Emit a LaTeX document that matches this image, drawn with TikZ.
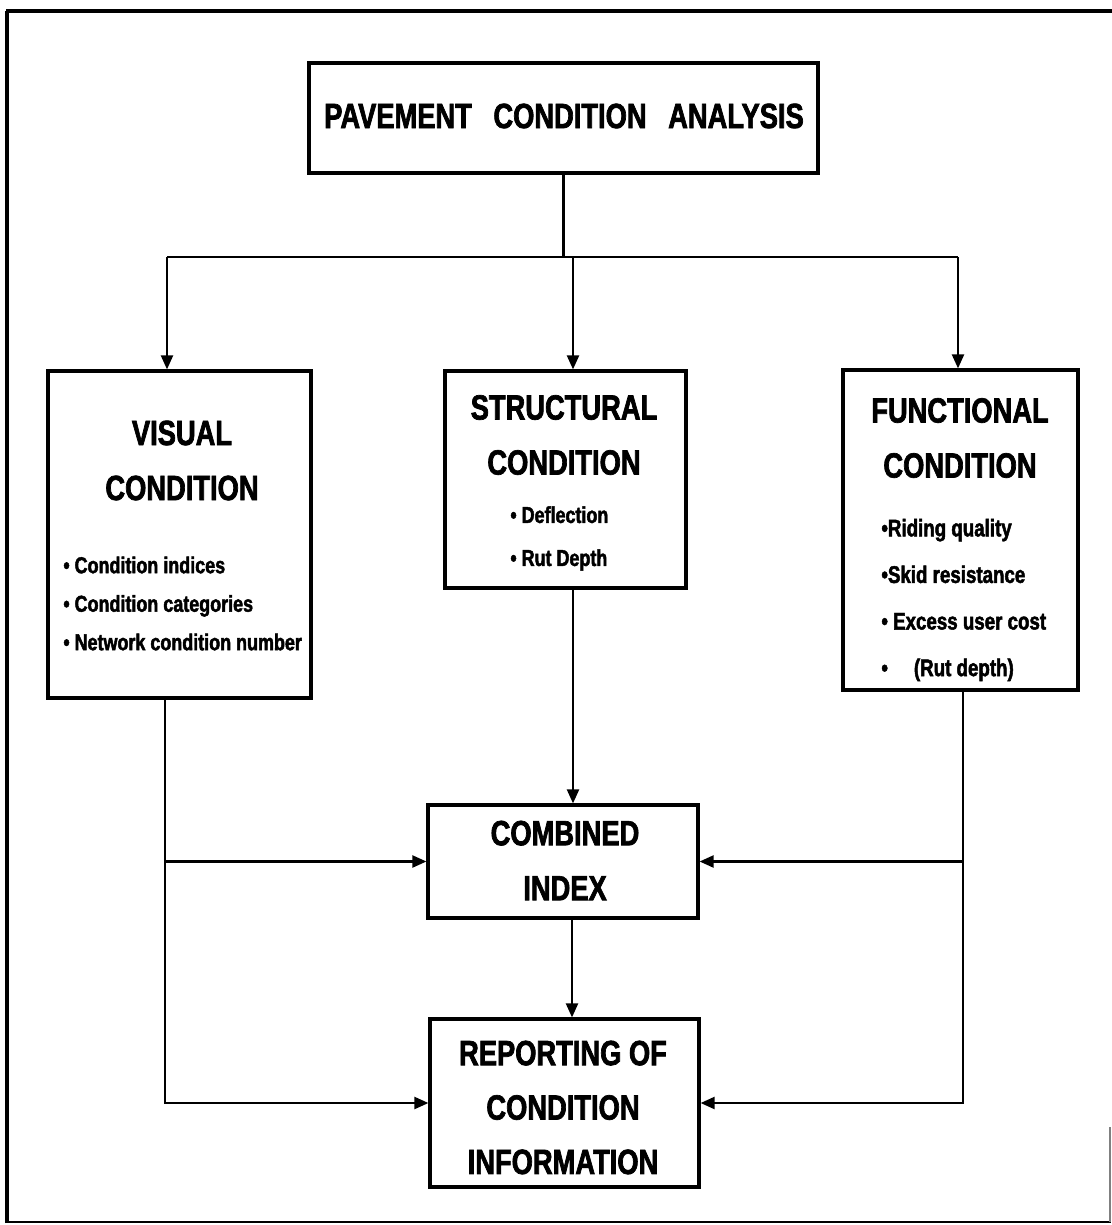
\documentclass[tikz,border=0pt]{standalone}
\usepackage{fontspec}
\setmainfont{Liberation Sans}[FakeStretch=0.78, BoldFeatures={FakeBold=2}]
\usetikzlibrary{arrows.meta}
\begin{document}
\begin{tikzpicture}[x=0.5pt,y=-0.5pt,
  box/.style={draw,line width=1.6pt,inner sep=0pt},
  head/.style={font=\bfseries\fontsize{17.5}{27.5}\selectfont,align=center,inner sep=0pt},
  bul/.style={font=\bfseries\fontsize{11.5}{19.25}\selectfont,align=left,anchor=west,inner sep=0pt},
  con/.style={line width=1.1pt},
  arr/.style={con,-{Triangle[length=7pt,width=6pt]}}]
\useasboundingbox (0,0) rectangle (1112,1225);
% outer frame
\draw[line width=2pt] (7,1223) -- (7,11);
\draw[line width=2pt] (6,11) -- (1112,11);
\draw[line width=1.4pt] (7,1222) -- (1111,1222);
\draw[line width=0.6pt,gray] (1110,1127) -- (1110,1222);
% boxes
\node[box,minimum width=254.5pt,minimum height=55pt] (title) at (563.5,118) {};
\node[box,minimum width=131.5pt,minimum height=163.5pt] (visual) at (179.5,534.5) {};
\node[box,minimum width=120.5pt,minimum height=108.5pt] (struct) at (565.5,479.5) {};
\node[box,minimum width=117.5pt,minimum height=160pt] (func) at (960.5,530) {};
\node[box,minimum width=135pt,minimum height=56.5pt] (comb) at (563,861.5) {};
\node[box,minimum width=134.5pt,minimum height=84pt] (report) at (564.5,1103) {};
% texts
\node[head] (titletext) at (564,116) {PAVEMENT\hspace{7pt} CONDITION\hspace{7pt} ANALYSIS};
\node[head] (visualhead) at (182,460.5) {VISUAL\\CONDITION};
\node[bul] (visuallist) at (63,603.5) {• Condition indices\\• Condition categories\\• Network condition number};
\node[head] (structhead) at (564,435) {STRUCTURAL\\CONDITION};
\node[bul,font=\bfseries\fontsize{11.5}{21.5}\selectfont] (structlist) at (510,538.5) {• Deflection\\• Rut Depth};
\node[head] (funchead) at (960,438) {FUNCTIONAL\\CONDITION};
\node[bul,font=\bfseries\fontsize{12}{23.3}\selectfont] (funclist) at (881,600) {•Riding quality\\•Skid resistance\\• Excess user cost\\•\hspace{13pt}(Rut depth)};
\node[head] (combhead) at (565,860.5) {COMBINED\\INDEX};
\node[head,font=\bfseries\fontsize{17.5}{27.2}\selectfont] (reporthead) at (563,1107.5) {REPORTING OF\\CONDITION\\INFORMATION};
% connector coordinates
\coordinate (jL) at (167,257);
\coordinate (jR) at (958,257);
\coordinate (jS) at (573,257);
\coordinate (cr) at (572,950);
\coordinate (lx) at (165,900);
\coordinate (rx) at (963,900);
% connectors
\draw[con] (title.south) -- (title.south |- jL);
\draw[con] (jL) -- (jR);
\draw[arr] (jL) -- (jL |- visual.north);
\draw[arr] (jS) -- (jS |- struct.north);
\draw[arr] (jR) -- (jR |- func.north);
\draw[arr] (struct.south -| jS) -- (comb.north -| jS);
\draw[arr] (comb.south -| cr) -- (report.north -| cr);
\draw[arr] (visual.south -| lx) |- (report.west);
\draw[arr] (lx |- comb.west) -- (comb.west);
\draw[arr] (func.south -| rx) |- (report.east);
\draw[arr] (rx |- comb.east) -- (comb.east);
\end{tikzpicture}
\end{document}
